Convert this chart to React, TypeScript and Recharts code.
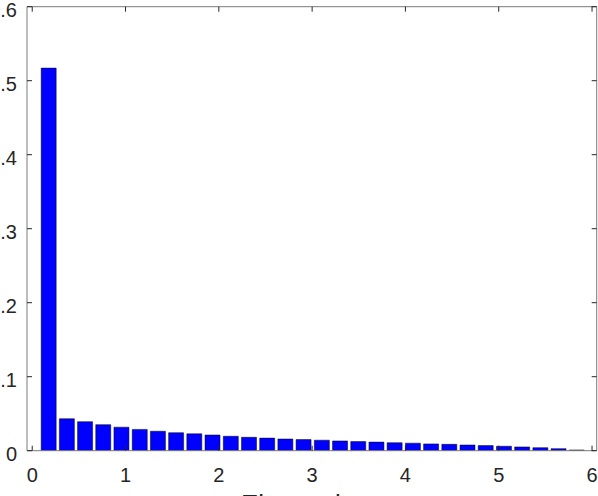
import React from 'react';
import { BarChart, Bar, XAxis, YAxis } from 'recharts';

const binCenters = [
  0.172, 0.367, 0.562, 0.757, 0.952, 1.148, 1.343, 1.538, 1.733, 1.928,
  2.124, 2.319, 2.514, 2.709, 2.904, 3.1, 3.295, 3.49, 3.685, 3.88,
  4.076, 4.271, 4.466, 4.661, 4.856, 5.052, 5.247, 5.442, 5.637, 5.832,
];
const proportions = [
  0.517, 0.0432, 0.0392, 0.0352, 0.0318, 0.0288, 0.0263, 0.0243, 0.0228, 0.0212,
  0.0195, 0.0181, 0.017, 0.0158, 0.015, 0.0142, 0.0132, 0.0123, 0.0116, 0.0108,
  0.0102, 0.0092, 0.0086, 0.0077, 0.0069, 0.006, 0.0051, 0.0041, 0.0028, 0.001,
];
const xTicks = [0, 1, 2, 3, 4, 5, 6];
const yTicks = [0, 0.1, 0.2, 0.3, 0.4, 0.5, 0.6];
const xLabel = 'Eigenvalues';

const data = binCenters.map((x, i) => ({ x, v: proportions[i] }));

const FONT = '"Liberation Sans", Arial, Helvetica, sans-serif';
const TEXT = '#262626';
const AXIS = '#7a7a7a';
const fmt = (v: number) => (v === 0 ? '0' : String(Number(v.toFixed(2))));

const XTickBottom = (props: any) => {
  const { x, y, payload } = props;
  return (
    <g>
      <line x1={x} x2={x} y1={y} y2={y - 5} stroke={TEXT} strokeWidth={1} />
      <text x={x} y={y + 31} textAnchor="middle" fontSize={20} fill={TEXT} fontFamily={FONT}>
        {fmt(payload.value)}
      </text>
    </g>
  );
};
const XTickTop = (props: any) => {
  const { x, y } = props;
  return <line x1={x} x2={x} y1={y} y2={y + 5} stroke={TEXT} strokeWidth={1} />;
};
const YTickLeft = (props: any) => {
  const { x, y, payload } = props;
  return (
    <g>
      <line x1={x} x2={x + 5} y1={y} y2={y} stroke={TEXT} strokeWidth={1} />
      <text x={x - 10} y={y + 10} textAnchor="end" fontSize={20} fill={TEXT} fontFamily={FONT}>
        {fmt(payload.value)}
      </text>
    </g>
  );
};
const YTickRight = (props: any) => {
  const { x, y } = props;
  return <line x1={x} x2={x - 5} y1={y} y2={y} stroke={TEXT} strokeWidth={1} />;
};

const AxisTitle = (props: any) => {
  const vb = props.viewBox || { x: 0, y: 0, width: 0 };
  return (
    <text x={vb.x + vb.width / 2} y={vb.y + 62} textAnchor="middle" fontSize={26} fill={TEXT} fontFamily={FONT}>
      {xLabel}
    </text>
  );
};

export default function App() {
  return (
    <div style={{ position: 'fixed', left: 0, top: 0, width: 598, height: 496, overflow: 'hidden', background: '#fff' }}>
      <BarChart
        width={598}
        height={530}
        data={data}
        margin={{ top: 5.7, right: 0.3, left: 0, bottom: 0 }}
      >
        <XAxis
          xAxisId="b"
          type="number"
          dataKey="x"
          domain={[-0.056, 6.05]}
          ticks={xTicks}
          allowDataOverflow
          height={79.3}
          tickSize={0}
          tickMargin={0}
          tickLine={false}
          axisLine={{ stroke: AXIS, strokeWidth: 1 }}
          tick={<XTickBottom />}
          interval={0}
          label={{ content: (p: any) => <AxisTitle {...p} /> }}
        />
        <XAxis
          xAxisId="t"
          orientation="top"
          type="number"
          dataKey="x"
          domain={[-0.056, 6.05]}
          ticks={xTicks}
          allowDataOverflow
          height={1}
          tickSize={0}
          tickMargin={0}
          tickLine={false}
          axisLine={{ stroke: AXIS, strokeWidth: 1 }}
          tick={<XTickTop />}
          interval={0}
        />
        <YAxis
          yAxisId="l"
          type="number"
          domain={[0, 0.6]}
          ticks={yTicks}
          allowDataOverflow
          width={27}
          tickSize={0}
          tickMargin={0}
          tickLine={false}
          axisLine={{ stroke: AXIS, strokeWidth: 1 }}
          tick={<YTickLeft />}
          interval={0}
        />
        <YAxis
          yAxisId="r"
          orientation="right"
          type="number"
          domain={[0, 0.6]}
          ticks={yTicks}
          allowDataOverflow
          width={1}
          tickSize={0}
          tickMargin={0}
          tickLine={false}
          axisLine={{ stroke: AXIS, strokeWidth: 1 }}
          tick={<YTickRight />}
          interval={0}
        />
        <Bar
          xAxisId="b"
          yAxisId="l"
          dataKey="v"
          fill="#0000ff"
          stroke="#000"
          strokeWidth={0.5}
          barSize={15}
          isAnimationActive={false}
        />
      </BarChart>
    </div>
  );
}
